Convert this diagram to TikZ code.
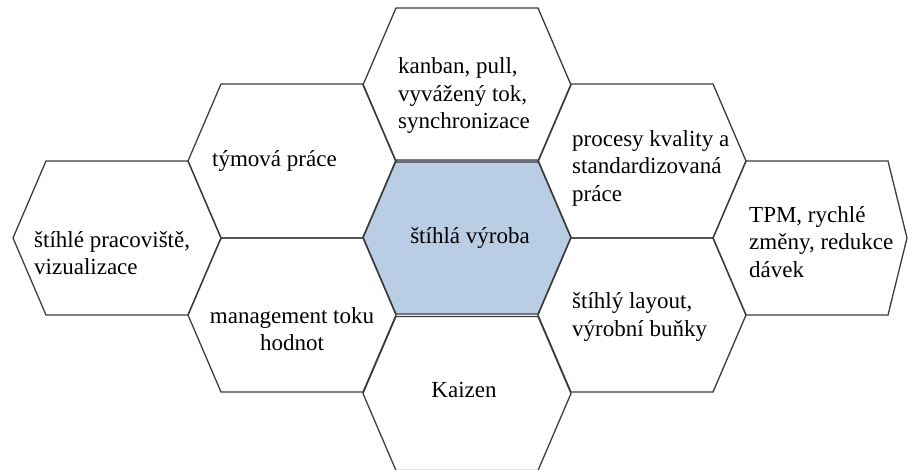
\documentclass[tikz,border=0pt]{standalone}
\usepackage{fontspec}
\setmainfont{Liberation Serif}
\newfontfamily\cellfont{Liberation Serif}
\definecolor{hexgray}{HTML}{3C3C3C}
\definecolor{leanblue}{HTML}{B9CDE5}
\begin{document}
\begin{tikzpicture}[x=1pt,y=-1pt,
  hexline/.style={draw=hexgray, line width=1.3pt, line join=miter},
  label/.style={font=\cellfont\fontsize{23}{27.5}\selectfont, text=black, inner sep=0pt, align=left},
  hex/.pic={\draw[hexline,pic actions] (-104,0) -- (-71,-77) -- (71,-77) -- (104,0) -- (71,77) -- (-71,77) -- cycle;}
]
\useasboundingbox (0,0) rectangle (908,470);

% honeycomb: centre cell first (filled), then the ring around it
\pic[fill=leanblue] at (467,237) {hex};
\pic at (467,85) {hex};
\pic at (467,393.5) {hex};
\pic at (292,161) {hex};
\pic at (292,315) {hex};
\pic at (642,161) {hex};
\pic at (642,315) {hex};
\pic at (117,238) {hex};
% right-most cell, narrower on its outer side
\draw[hexline] (713,238) -- (746,161) -- (888,161) -- (907,238) -- (888,315) -- (746,315) -- cycle;

% cell texts
\node[label] (core) at (470,238) {štíhlá výroba};
\node[label, anchor=west] (flow) at (398,96) {kanban, pull,\\vyvážený tok,\\synchronizace};
\node[label, anchor=west] (team) at (212,161) {týmová práce};
\node[label, anchor=west] (quality) at (572,168) {procesy kvality a\\standardizovaná\\práce};
\node[label, anchor=west] (workplace) at (34,253) {štíhlé pracoviště,\\vizualizace};
\node[label, anchor=west] (tpm) at (749,242) {TPM, rychlé\\změny, redukce\\dávek};
\node[label, align=center] (vsm) at (292,329) {management toku\\hodnot};
\node[label, anchor=west] (layout) at (572,317) {štíhlý layout,\\výrobní buňky};
\node[label] (kaizen) at (464,390) {Kaizen};
\end{tikzpicture}
\end{document}
